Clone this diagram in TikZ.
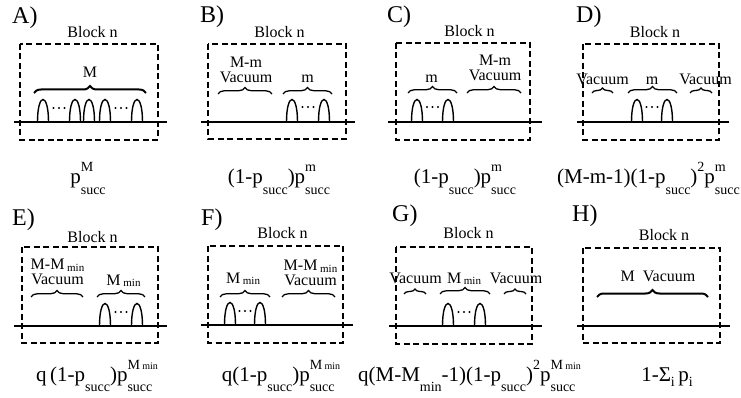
\documentclass[tikz,border=0pt]{standalone}
\usepackage{fontspec}
\setmainfont{Liberation Serif}
\usetikzlibrary{decorations.pathreplacing}

\newcommand\subsz{\fontsize{14}{14}\selectfont}
\newcommand\minsz{\fontsize{10}{10}\selectfont}
\newcommand\supsub[2]{\setbox0\hbox{\subsz #1}\setbox2\hbox{\subsz #2}%
  \ifdim\wd0>\wd2\relax\dimen0=\wd0\else\dimen0=\wd2\fi
  \makebox[\dimen0][l]{\rlap{\raisebox{12pt}{\box0}}\raisebox{-10pt}{\box2}}}
\newcommand\PS[1]{p\supsub{#1}{succ}}
\newcommand\psu{p\raisebox{-10pt}{\subsz succ}}
\newcommand\sqr{\raisebox{12pt}{\subsz 2}}
\newcommand\Mminsup{M\,{\minsz min}}
\newcommand\Mmintxt{M\,\raisebox{-1.5pt}{\fontsize{11}{11}\selectfont min}}

\tikzset{
  x=1pt, y=-1pt,
  blockbox/.style={draw, line width=1.3pt, dash pattern=on 6pt off 3.5pt},
  axisline/.style={line width=1.2pt},
  pulse/.style={line width=1.4pt},
  bracethin/.style={line width=1.3pt, decorate, decoration={brace, amplitude=6.5pt}},
  bracesmall/.style={line width=1.3pt, decorate, decoration={brace, amplitude=5pt}},
  bracethick/.style={line width=2pt, decorate, decoration={brace, amplitude=7pt}},
  lbl/.style={anchor=base west, inner sep=0pt, font=\fontsize{24}{24}\selectfont},
  blk/.style={anchor=base, inner sep=0pt, font=\fontsize{16}{16}\selectfont},
  txt/.style={anchor=base, inner sep=0pt, font=\fontsize{16}{16}\selectfont},
  txt2/.style={anchor=south, inner sep=0pt, align=center, font=\fontsize{16}{15}\selectfont},
  frm/.style={anchor=base, inner sep=0pt, font=\fontsize{21}{21}\selectfont},
}
\newcommand\pulseat[2]{\draw[pulse] ({#1-5.5},{#2}) .. controls ({#1-5.5},{#2-30}) and ({#1+5.5},{#2-30}) .. ({#1+5.5},{#2});}
\newcommand\dotsat[2]{\foreach \d in {-5.5,0,5.5} {\fill ({#1+\d},{#2}) circle[radius=1.15pt];}}

\begin{document}
\begin{tikzpicture}
\useasboundingbox (0,0) rectangle (741,398);

% ---------- A ----------
\node[lbl] (lA) at (12,24) {A)};
\node[blk] (bA) at (92.5,38) {Block n};
\draw[blockbox] (20,44) rectangle (158,140);
\draw[axisline] (14,122) -- (167,122);
\foreach \p in {43,75,89,105,137} {\pulseat{\p}{122}}
\dotsat{59}{108}\dotsat{121}{108}
\draw[bracethick] (34,93) -- (146,93);
\node[txt] (tA) at (90,78) {M};
\node[frm] (fA) at (88,184) {\PS{M}};

% ---------- B ----------
\node[lbl] (lB) at (200,23) {B)};
\node[blk] (bB) at (279.5,38) {Block n};
\draw[blockbox] (208,44) rectangle (346,139);
\draw[axisline] (201,122) -- (355,122);
\pulseat{292}{122}\pulseat{324}{122}
\dotsat{308}{107}
\draw[bracethin] (218,94) -- (272,94);
\draw[bracethin] (283,94) -- (332,94);
\node[txt2] (tB1) at (246,83) {M-m\\Vacuum};
\node[txt] (tB3) at (307.5,83) {m};
\node[frm] (fB) at (279,184) {(1-\psu)\PS{m}};

% ---------- C ----------
\node[lbl] (lC) at (387,23) {C)};
\node[blk] (bC) at (469.5,37) {Block n};
\draw[blockbox] (396,43) rectangle (530,140);
\draw[axisline] (388,122) -- (542,122);
\pulseat{417}{122}\pulseat{448}{122}
\dotsat{432.5}{107}
\draw[bracethin] (408,93) -- (457,93);
\draw[bracethin] (467,93) -- (521,93);
\node[txt] (tC1) at (431.5,83) {m};
\node[txt2] (tC2) at (495,81) {M-m\\Vacuum};
\node[frm] (fC) at (465,184) {(1-\psu)\PS{m}};

% ---------- D ----------
\node[lbl] (lD) at (576,23) {D)};
\node[blk] (bD) at (655,38) {Block n};
\draw[blockbox] (583,44) rectangle (719,140);
\draw[axisline] (577,122) -- (729,122);
\pulseat{637}{122}\pulseat{667}{122}
\dotsat{652}{107}
\draw[bracesmall] (592,93) -- (613,93);
\draw[bracethin] (628,93) -- (677,93);
\draw[bracesmall] (690,93) -- (712,93);
\node[txt] (tD1) at (602.5,85) {Vacuum};
\node[txt] (tD2) at (652,85) {m};
\node[txt] (tD3) at (705.5,85) {Vacuum};
\node[frm] (fD) at (648.5,184) {(M-m-1)(1-\psu)\sqr\PS{m}};

% ---------- E ----------
\node[lbl] (lE) at (12,225) {E)};
\node[blk] (bE) at (92.5,242) {Block n};
\draw[blockbox] (22,247) rectangle (158,343);
\draw[axisline] (14,326) -- (167,326);
\pulseat{105}{326}\pulseat{137}{326}
\dotsat{121}{312}
\draw[bracethin] (31,297) -- (83,297);
\draw[bracethin] (97,297) -- (145,297);
\node[txt2] (tE1) at (57.5,285) {M-\Mmintxt\\Vacuum};
\node[txt] (tE3) at (123.5,285) {\Mmintxt};
\node[frm] (fE) at (97,381) {q\,(1-\psu)\PS{\Mminsup}};

% ---------- F ----------
\node[lbl] (lF) at (201,225) {F)};
\node[blk] (bF) at (282.5,238) {Block n};
\draw[blockbox] (208,246) rectangle (343,343);
\draw[axisline] (201,325) -- (353,325);
\pulseat{230}{325}\pulseat{260}{325}
\dotsat{245}{311}
\draw[bracethin] (220,297) -- (270,297);
\draw[bracethin] (282,297) -- (335,297);
\node[txt] (tF1) at (243,283) {\Mmintxt};
\node[txt2] (tF2) at (310.5,286) {M-\Mmintxt\\Vacuum};
\node[frm] (fF) at (281,381) {q(1-\psu)\PS{\Mminsup}};

% ---------- G ----------
\node[lbl] (lG) at (392,222) {G)};
\node[blk] (bG) at (468.5,238) {Block n};
\draw[blockbox] (396,247) rectangle (532,344);
\draw[axisline] (389,326) -- (542,326);
\pulseat{448}{326}\pulseat{480}{326}
\dotsat{464}{312}
\draw[bracesmall] (404,294) -- (426,294);
\draw[bracethin] (440,294) -- (490,294);
\draw[bracesmall] (504,294) -- (526,294);
\node[txt] (tG1) at (415.5,283) {Vacuum};
\node[txt] (tG2) at (464,283) {\Mmintxt};
\node[txt] (tG3) at (516,283) {Vacuum};
\node[frm] (fG) at (469.5,381) {q(M-M\raisebox{-10pt}{\subsz min}-1)(1-\psu)\sqr\PS{\Mminsup}};

% ---------- H ----------
\node[lbl] (lH) at (572,222) {H)};
\node[blk] (bH) at (664,240) {Block n};
\draw[blockbox] (583,248) rectangle (720,343);
\draw[axisline] (577,326) -- (730,326);
\draw[bracethick] (597,297) -- (708,297);
\node[txt] (tH) at (658,281) {M\ \ Vacuum};
\node[frm] (fH) at (667,381) {1-Σ\raisebox{-5pt}{\subsz i}\,p\raisebox{-5pt}{\subsz i}};
\end{tikzpicture}
\end{document}
